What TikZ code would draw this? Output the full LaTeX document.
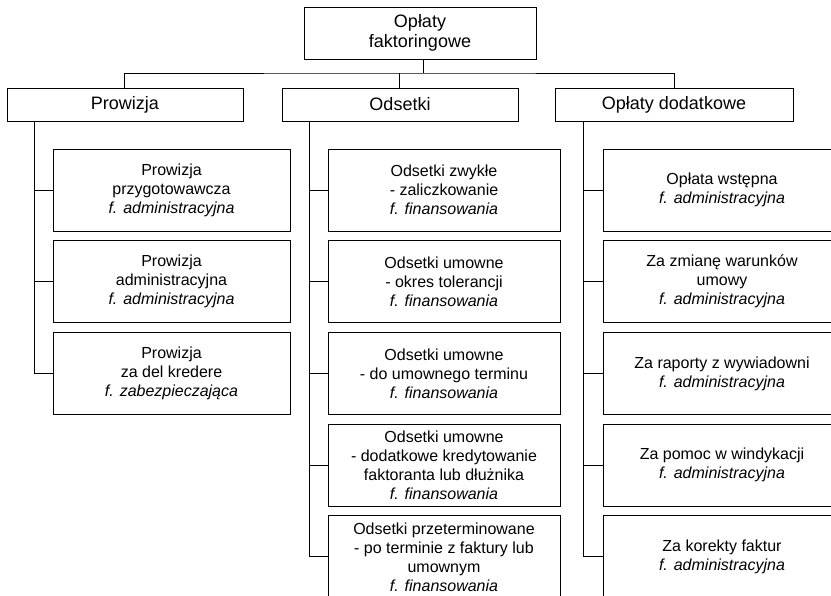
\documentclass[tikz,border=0pt]{standalone}
\usepackage{fontspec}
\setmainfont{Liberation Sans}
\newcommand\FFin{\textit{f. finansowania}}
\newcommand\FAdm{\textit{f. administracyjna}}
\begin{document}
\begin{tikzpicture}[x=1pt,y=-1pt,line width=0.8pt,
  box/.style={draw,inner sep=0pt,align=center},
  topbox/.style={box,minimum width=232pt,minimum height=52pt,font=\fontsize{18}{20}\selectfont},
  head/.style={box,minimum width=236pt,minimum height=33pt,font=\fontsize{18}{20}\selectfont},
  child/.style={box,minimum height=82pt,font=\fontsize{16}{19}\selectfont},
  lchild/.style={child,minimum width=237pt},
  mchild/.style={child,minimum width=232pt},
  rchild/.style={child,minimum width=238pt},
  link/.style={draw,line width=0.8pt}]
\useasboundingbox (0,0) rectangle (831,596);
\clip (0,0) rectangle (831,596);
% top
\node[topbox] (top) at (420,33) {Opłaty\\faktoringowe};
\node[head] (prow) at (125,104.5) {Prowizja};
\node[head] (ods) at (400,104.5) {Odsetki};
\node[head,minimum width=238pt] (opd) at (674,104.5) {Opłaty dodatkowe};
\coordinate (bus) at (420,73);
\draw[link] ([xshift=3pt]top.south) -- ([xshift=3pt]top.south |- bus);
\draw[link] ([xshift=-1pt]prow.north) |- (ods.north |- bus) -| (opd.north);
\draw[link] ([xshift=-1pt]ods.north) -- ([xshift=-1pt]ods.north |- bus);
% left column
\node[lchild] (l1) at (171.5,190) {Prowizja\\przygotowawcza\\\FAdm};
\node[lchild] (l2) at (171.5,281.7) {Prowizja\\administracyjna\\\FAdm};
\node[lchild] (l3) at (171.5,373.4) {Prowizja\\za del kredere\\\textit{f. zabezpieczająca}};
% middle column
\node[mchild] (m1) at (444,190) {Odsetki zwykłe\\- zaliczkowanie\\\FFin};
\node[mchild] (m2) at (444,281.7) {Odsetki umowne\\- okres tolerancji\\\FFin};
\node[mchild] (m3) at (444,373.4) {Odsetki umowne\\- do umownego terminu\\\FFin};
\node[mchild] (m4) at (444,465.1) {Odsetki umowne\\- dodatkowe kredytowanie\\faktoranta lub dłużnika\\\FFin};
\node[mchild] (m5) at (444,556.8) {Odsetki przeterminowane\\- po terminie z faktury lub\\umownym\\\FFin};
% right column
\node[rchild] (r1) at (722,190) {Opłata wstępna\\\FAdm};
\node[rchild] (r2) at (722,281.7) {Za zmianę warunków\\umowy\\\FAdm};
\node[rchild] (r3) at (722,373.4) {Za raporty z wywiadowni\\\FAdm};
\node[rchild] (r4) at (722,465.1) {Za pomoc w windykacji\\\FAdm};
\node[rchild] (r5) at (722,556.8) {Za korekty faktur\\\FAdm};
% spines
\coordinate (s1) at ([xshift=28pt]prow.south west);
\coordinate (s2) at ([xshift=28pt]ods.south west);
\coordinate (s3) at ([xshift=29pt]opd.south west);
\draw[link] (s1) |- (l3.west);
\foreach \n in {l1,l2} \draw[link] (s1 |- \n.west) -- (\n.west);
\draw[link] (s2) |- (m5.west);
\foreach \n in {m1,m2,m3,m4} \draw[link] (s2 |- \n.west) -- (\n.west);
\draw[link] (s3) |- (r5.west);
\foreach \n in {r1,r2,r3,r4} \draw[link] (s3 |- \n.west) -- (\n.west);
\end{tikzpicture}
\end{document}
